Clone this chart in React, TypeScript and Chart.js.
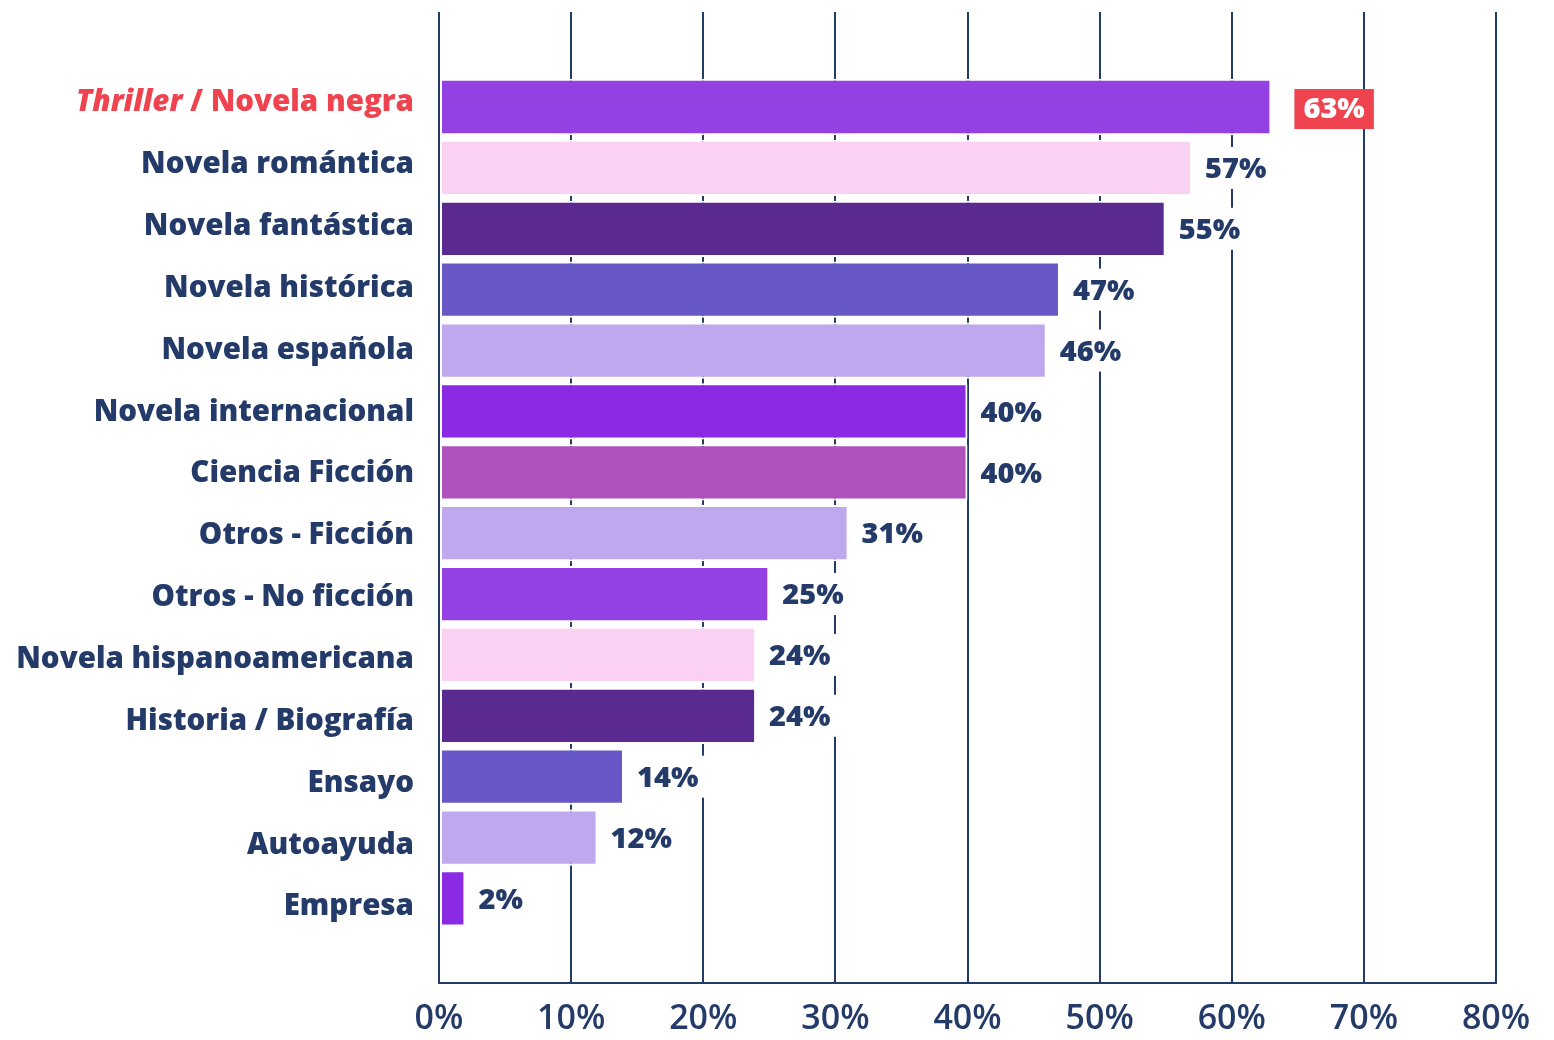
import React, { useEffect, useRef } from "react";
import { Chart, registerables } from "chart.js";

Chart.register(...registerables);

const categories = [
  "Thriller / Novela negra",
  "Novela romántica",
  "Novela fantástica",
  "Novela histórica",
  "Novela española",
  "Novela internacional",
  "Ciencia Ficción",
  "Otros - Ficción",
  "Otros - No ficción",
  "Novela hispanoamericana",
  "Historia / Biografía",
  "Ensayo",
  "Autoayuda",
  "Empresa",
];

const values = [63, 57, 55, 47, 46, 40, 40, 31, 25, 24, 24, 14, 12, 2];

const barColors = [
  "#9441E3",
  "#FBD1F3",
  "#5A2A91",
  "#6857C7",
  "#C0A8EE",
  "#8B2AE3",
  "#B052BE",
  "#C0A8EE",
  "#9441E3",
  "#FBD1F3",
  "#5A2A91",
  "#6857C7",
  "#C0A8EE",
  "#8B2AE3",
];

const xTicks = [0, 10, 20, 30, 40, 50, 60, 70, 80];

const highlightIndex = 0;
const highlightItalic = "Thriller";

const NAVY = "#243B6A";
const RED = "#EF444F";
const FONT = "'Open Sans', 'DejaVu Sans', sans-serif";

const labelPlugin = {
  id: "customLabels",
  afterDatasetsDraw(chart: any) {
    const ctx = chart.ctx as CanvasRenderingContext2D;
    const yl = chart.scales.yLabels;
    const left = chart.chartArea.left;
    ctx.save();
    ctx.textBaseline = "middle";
    categories.forEach((c, i) => {
      const y = yl.getPixelForValue(i) + 2;
      const x = left - 25;
      ctx.textAlign = "right";
      if (i === highlightIndex && c.startsWith(highlightItalic)) {
        const rest = c.slice(highlightItalic.length);
        ctx.fillStyle = RED;
        ctx.font = `800 29.5px ${FONT}`;
        const rw = ctx.measureText(rest).width;
        ctx.fillText(rest, x, y);
        ctx.font = `italic 800 29.5px ${FONT}`;
        ctx.fillText(highlightItalic, x - rw, y);
      } else {
        ctx.fillStyle = NAVY;
        ctx.font = `800 29.5px ${FONT}`;
        ctx.fillText(c, x, y);
      }
    });
    const meta = chart.getDatasetMeta(0);
    ctx.textAlign = "left";
    ctx.font = `800 29px ${FONT}`;
    meta.data.forEach((bar: any, i: number) => {
      const text = values[i] + "%";
      const w = ctx.measureText(text).width;
      const y = bar.y + 2;
      if (i === highlightIndex) {
        const bx = bar.x + 23;
        ctx.fillStyle = RED;
        ctx.fillRect(bx, y - 20, w + 18, 40);
        ctx.fillStyle = "#ffffff";
        ctx.fillText(text, bx + 9, y + 1);
      } else {
        const tx = bar.x + 13;
        ctx.fillStyle = "#ffffff";
        ctx.fillRect(tx - 8, bar.y - 21, w + 16, 42);
        ctx.fillStyle = NAVY;
        ctx.fillText(text, tx, y);
      }
    });
    ctx.restore();
  },
};

export default function App() {
  const ref = useRef<HTMLCanvasElement | null>(null);

  useEffect(() => {
    document.body.style.margin = "0";
    const canvas = ref.current;
    if (!canvas) return;
    const chart = new Chart(canvas, {
      type: "bar",
      data: {
        datasets: [
          {
            data: values.map((v, i) => ({ x: v, y: i })) as any,
            backgroundColor: barColors,
            borderColor: "#ffffff",
            borderWidth: 2,
            borderSkipped: false,
            barPercentage: 0.925,
            categoryPercentage: 1,
          },
        ],
      },
      options: {
        indexAxis: "y",
        responsive: false,
        animation: false,
        events: [],
        layout: { padding: { left: 439, right: 58, top: 12, bottom: 0 } },
        plugins: {
          legend: { display: false },
          tooltip: { enabled: false },
        },
        scales: {
          x: {
            type: "linear",
            min: 0,
            max: 80,
            offset: false,
            afterBuildTicks: (s: any) => {
              s.ticks = xTicks.map((v) => ({ value: v }));
            },
            afterFit: (s: any) => {
              s.height = 57;
            },
            ticks: {
              color: NAVY,
              font: { family: FONT, size: 34, weight: "600" as any },
              padding: 16,
              callback: (v: any) => v + "%",
            },
            grid: { color: NAVY, lineWidth: 2, drawTicks: false, offset: false },
            border: { display: true, color: NAVY, width: 2 },
          },
          y: {
            type: "linear",
            reverse: true,
            offset: false,
            min: -1.561,
            max: 14.389,
            display: false,
            afterBuildTicks: (s: any) => {
              s.ticks = categories.map((_, i) => ({ value: i }));
            },
            grid: { display: false, offset: false },
          },
          yLabels: {
            type: "linear",
            axis: "y",
            reverse: true,
            offset: false,
            min: -1.439,
            max: 14.261,
            display: false,
            afterBuildTicks: (s: any) => {
              s.ticks = categories.map((_, i) => ({ value: i }));
            },
            grid: { display: false, offset: false },
          },
        } as any,
      },
      plugins: [labelPlugin],
    });
    return () => chart.destroy();
  }, []);

  return (
    <div style={{ width: 1554, height: 1040 }}>
      <canvas ref={ref} width={1554} height={1040} style={{ display: "block" }} />
    </div>
  );
}
